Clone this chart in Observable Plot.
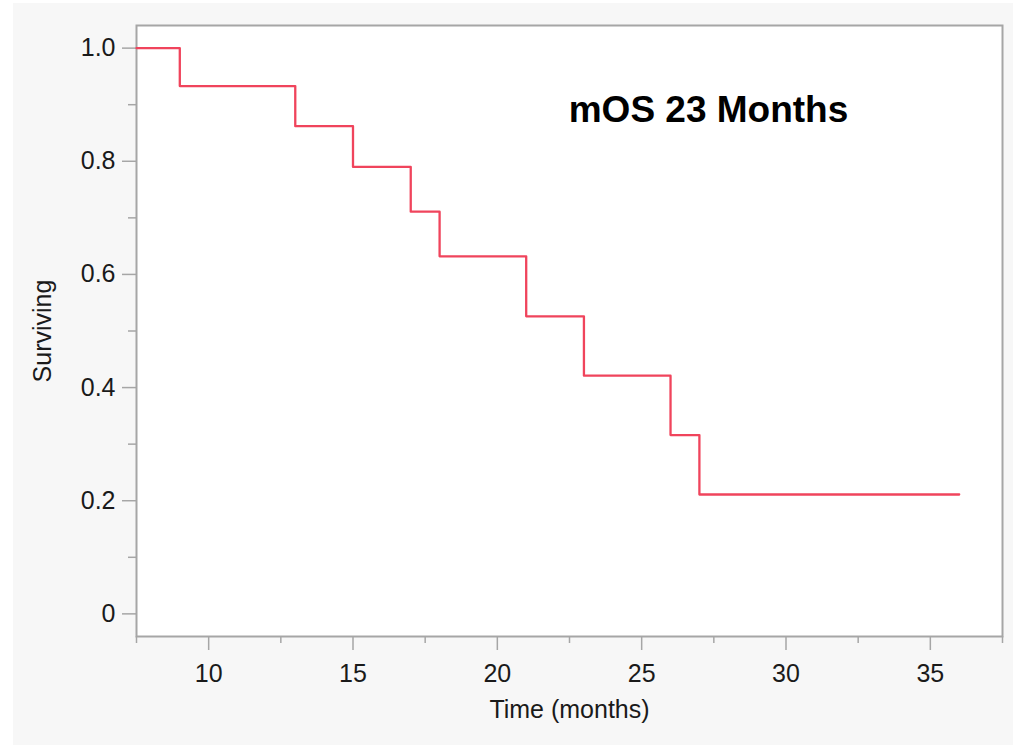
<!DOCTYPE html>
<html>
<head>
<meta charset="utf-8">
<script src="https://cdn.jsdelivr.net/npm/d3@7"></script>
<script src="https://cdn.jsdelivr.net/npm/@observablehq/plot@0.6"></script>
<style>
  html, body { margin: 0; padding: 0; background: #ffffff; }
  #wrap { position: absolute; left: 13px; top: 3px; width: 1000px; height: 742px; background: #f7f7f7; }
  svg { font-family: "Liberation Sans", Arial, Helvetica, sans-serif; }
</style>
</head>
<body>
<div id="wrap"></div>
<script>
// Kaplan–Meier step data
const timeMonths = [7.5, 9, 13, 15, 17, 18, 21, 23, 26, 27, 36];
const surviving  = [1.0, 0.933, 0.862, 0.790, 0.711, 0.632, 0.526, 0.421, 0.316, 0.211, 0.211];
const xMajorTicks = [10, 15, 20, 25, 30, 35];
const xMinorTicks = [7.5, 12.5, 17.5, 22.5, 27.5, 32.5, 37.5];
const yMajorTicks = [0, 0.2, 0.4, 0.6, 0.8, 1.0];
const yMinorTicks = [0.1, 0.3, 0.5, 0.7, 0.9];
const titleText = "mOS 23 Months";
const xLabel = "Time (months)";
const yLabel = "Surviving";

const data = timeMonths.map((t, i) => ({t, s: surviving[i]}));

const axisColor = "#a6a6a6";
const chart = Plot.plot({
  width: 1000,
  height: 742,
  marginLeft: 123,
  marginRight: 11,
  marginTop: 22,
  marginBottom: 109,
  style: {background: "transparent", fontFamily: "'Liberation Sans', Arial, Helvetica, sans-serif", fontSize: "26px", color: "#1a1a1a"},
  x: {domain: [7.5, 37.5]},
  y: {domain: [-0.04, 1.04]},
  marks: [
    Plot.frame({fill: "white", stroke: "none"}),
    Plot.axisX({ticks: xMinorTicks, tickSize: 7, tickFormat: () => "", stroke: axisColor, strokeWidth: 1.5, label: null}),
    Plot.axisX({ticks: xMajorTicks, tickSize: 14, tickPadding: 14, stroke: axisColor, strokeWidth: 1.5, fontSize: 25, fill: "#1a1a1a",
                label: xLabel, labelAnchor: "center", labelArrow: "none", labelOffset: 81}),
    Plot.axisY({ticks: yMinorTicks, tickSize: 8, tickFormat: () => "", stroke: axisColor, strokeWidth: 1.5, label: null}),
    Plot.axisY({ticks: yMajorTicks, tickSize: 14, tickPadding: 7, stroke: axisColor, strokeWidth: 1.5, fontSize: 25, fill: "#1a1a1a",
                tickFormat: d => d === 0 ? "0" : d.toFixed(1),
                label: yLabel, labelAnchor: "center", labelArrow: "none", labelOffset: 103}),
    Plot.frame({stroke: axisColor, strokeWidth: 2}),
    Plot.line(data, {x: "t", y: "s", curve: "step-after", stroke: "#f0445c", strokeWidth: 2.3}),
    Plot.text([titleText], {frameAnchor: "top", text: d => d, dx: 139, dy: 85, fontSize: 37, fontWeight: "bold", fill: "#000", lineAnchor: "middle"})
  ]
});
document.getElementById("wrap").appendChild(chart);
</script>
</body>
</html>
